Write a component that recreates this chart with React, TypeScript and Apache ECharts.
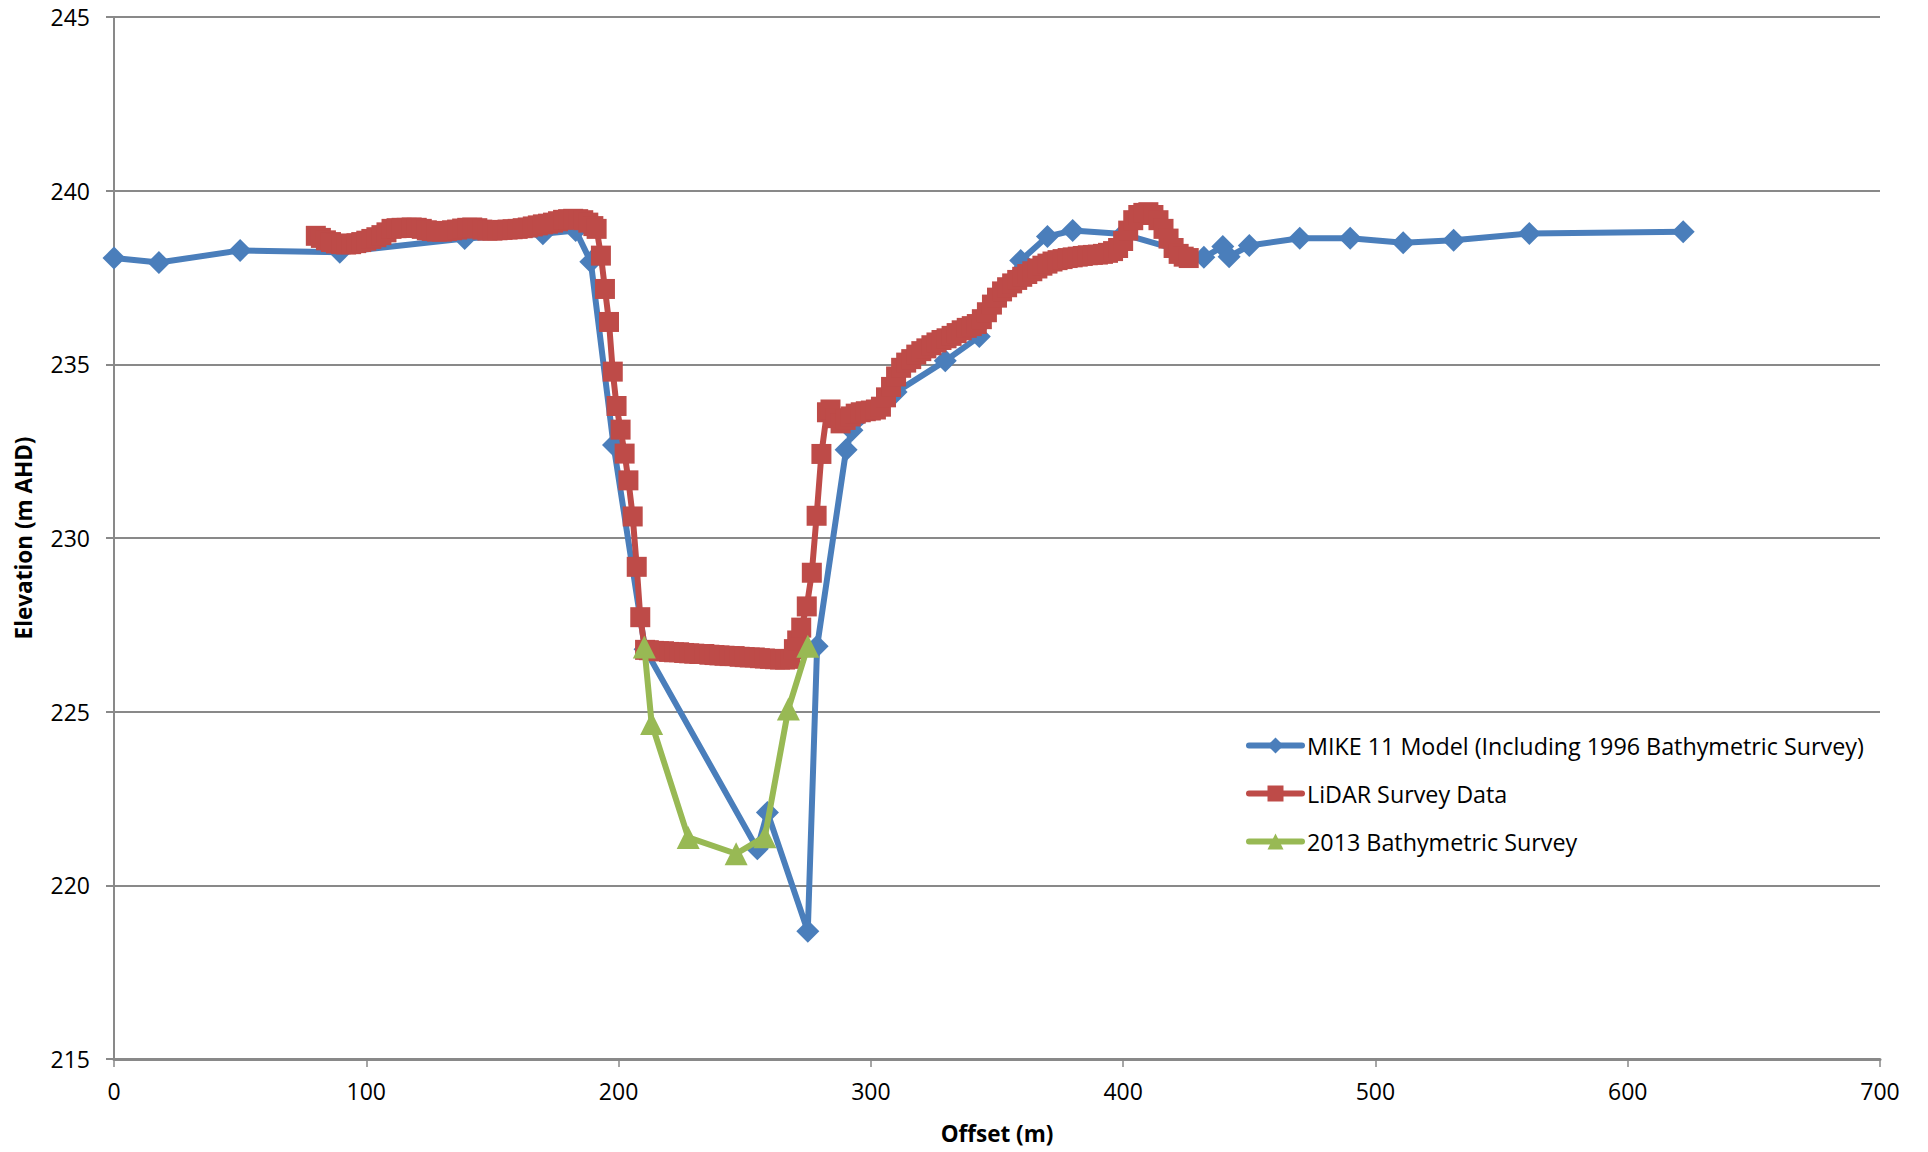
import React, { useEffect, useRef } from "react";
import * as echarts from "echarts";

const FONT = "'Open Sans', 'Noto Sans', sans-serif";

const seriesNames = [
  "MIKE 11 Model (Including 1996 Bathymetric Survey)",
  "LiDAR Survey Data",
  "2013 Bathymetric Survey",
];

const mikeOffset = [
  0, 17.8, 50, 89.5, 139, 170, 183, 189, 198, 210.5, 255, 259, 275, 278.7, 290.2,
  292.5, 310, 329.5, 343, 359.4, 370, 380, 400, 432, 439.5, 442, 450, 470, 490,
  511, 531, 561, 622,
];
const mikeElevation = [
  238.06, 237.93, 238.28, 238.23, 238.62, 238.76, 238.85, 237.95, 232.68, 226.8,
  221.05, 222.1, 218.68, 226.88, 232.54, 233.1, 234.2, 235.1, 235.8, 237.99,
  238.68, 238.85, 238.75, 238.08, 238.39, 238.1, 238.42, 238.63, 238.63, 238.5,
  238.57, 238.77, 238.82,
];

const lidarOffset = [
  80, 82, 84, 86, 88, 90, 92, 94, 96, 98, 100, 102, 104, 106, 108, 110, 112, 114,
  116, 118, 120, 122, 124, 126, 128, 130, 132, 134, 136, 138, 140, 142, 144, 146,
  148, 150, 152, 154, 156, 158, 160, 162, 164, 166, 168, 170, 172, 174, 176, 178,
  180, 182, 184, 186, 188, 190, 191.3,
  193.0, 194.6, 196.2, 197.7, 199.2, 200.8, 202.4, 203.9, 205.6, 207.2, 208.6,
  210.5, 212, 214, 216, 218, 220, 222, 224, 226, 228, 230, 232, 234, 236, 238,
  240, 242, 244, 246, 248, 250, 252, 254, 256, 258, 260, 262, 264, 266, 268,
  269.5, 270.8, 272.4, 274.6, 276.6, 278.5, 280.4, 282.6,
  284, 286, 288, 290, 292, 294, 296, 298, 300, 302, 304, 306, 308, 310, 312, 314,
  316, 318, 320, 322, 324, 326, 328, 330, 332, 334, 336, 338, 340, 342, 344, 346,
  348, 350, 352, 354, 356, 358, 360, 362, 364, 366, 368, 370, 372, 374, 376, 378,
  380, 382, 384, 386, 388, 390, 392, 394, 396, 398, 400, 402, 404, 406, 408, 410,
  412, 414, 416, 418, 420, 422, 424, 426,
];
const lidarElevation = [
  238.7, 238.64, 238.57, 238.52, 238.48, 238.46, 238.45, 238.46, 238.49, 238.52,
  238.56, 238.61, 238.66, 238.72, 238.8, 238.9, 238.92, 238.93, 238.93, 238.94,
  238.93, 238.9, 238.86, 238.84, 238.82, 238.82, 238.84, 238.86, 238.88, 238.91,
  238.93, 238.94, 238.92, 238.88, 238.85, 238.85, 238.86, 238.87, 238.88, 238.89,
  238.9, 238.92, 238.94, 238.97, 239.0, 239.03, 239.05, 239.08, 239.12, 239.16,
  239.18, 239.19, 239.18, 239.15, 239.08, 238.98, 238.9,
  238.13, 237.17, 236.22, 234.79, 233.8, 233.12, 232.43, 231.66, 230.62, 229.17,
  227.72,
  226.78, 226.77, 226.75, 226.74, 226.74, 226.72, 226.71, 226.71, 226.69, 226.68,
  226.67, 226.66, 226.66, 226.64, 226.63, 226.62, 226.61, 226.6, 226.6, 226.58,
  226.57, 226.56, 226.56, 226.54, 226.53, 226.52, 226.51, 226.5, 226.5, 226.52,
  226.8, 227.05, 227.42, 228.03, 229.0, 230.64, 232.42, 233.62,
  233.7, 233.45, 233.3, 233.4, 233.5, 233.58, 233.62, 233.65, 233.67, 233.7,
  233.78, 234.05, 234.35, 234.65, 234.9, 235.05, 235.15, 235.28, 235.38, 235.46,
  235.55, 235.63, 235.7, 235.75, 235.82, 235.9, 235.98, 236.05, 236.1, 236.16,
  236.3, 236.5, 236.72, 236.92, 237.1, 237.22, 237.33, 237.43, 237.52, 237.6,
  237.68, 237.76, 237.84, 237.9, 237.96, 238.0, 238.03, 238.06, 238.08, 238.1,
  238.12, 238.14, 238.15, 238.16, 238.18, 238.21, 238.26, 238.35, 238.55, 238.85,
  239.15, 239.3, 239.36, 239.38, 239.3, 239.15, 238.9, 238.62, 238.35, 238.18,
  238.1, 238.06,
];

const bathyOffset = [210.2, 213.1, 227.6, 246.6, 258, 267.3, 275];
const bathyElevation = [226.86, 224.66, 221.38, 220.91, 221.4, 225.08, 226.88];

const zip = (xs: number[], ys: number[]) => xs.map((x, i) => [x, ys[i]]);

const GRID_GREY = "#898989";
const LINE_W = 6;

export default function App() {
  const ref = useRef<HTMLDivElement>(null);
  useEffect(() => {
    const chart = echarts.init(ref.current!, undefined, { renderer: "svg" });
    chart.setOption({
      animation: false,
      backgroundColor: "#ffffff",
      textStyle: { fontFamily: FONT },
      grid: { left: 114, right: 48, top: 17, bottom: 93, containLabel: false },
      legend: {
        orient: "vertical",
        left: 1246,
        top: 731,
        padding: 0,
        itemWidth: 53,
        itemHeight: 20,
        itemGap: 19,
        data: seriesNames,
        lineStyle: { width: LINE_W },
        textStyle: { fontFamily: FONT, fontSize: 23.3, color: "#000", lineHeight: 29, padding: [0, 0, 0, 0] },
      },
      xAxis: {
        type: "value",
        min: 0,
        max: 700,
        interval: 100,
        name: "Offset (m)",
        nameLocation: "middle",
        nameGap: 63,
        nameTextStyle: { fontFamily: FONT, fontSize: 22.5, fontWeight: "bold", color: "#000" },
        axisLine: { show: true, onZero: false, lineStyle: { color: GRID_GREY, width: 3 } },
        axisTick: { show: true, length: 8, lineStyle: { color: GRID_GREY, width: 1.5 } },
        axisLabel: { fontFamily: FONT, fontSize: 23, color: "#000", margin: 20 },
        splitLine: { show: false },
      },
      yAxis: {
        type: "value",
        min: 215,
        max: 245,
        interval: 5,
        name: "Elevation (m AHD)",
        nameLocation: "middle",
        nameGap: 79,
        nameRotate: 90,
        nameTextStyle: { fontFamily: FONT, fontSize: 22.5, fontWeight: "bold", color: "#000" },
        axisLine: { show: true, lineStyle: { color: GRID_GREY, width: 2 } },
        axisTick: { show: true, length: 8, lineStyle: { color: GRID_GREY, width: 2 } },
        axisLabel: { fontFamily: FONT, fontSize: 23, color: "#000", margin: 24 },
        splitLine: { show: true, lineStyle: { color: GRID_GREY, width: 2 } },
      },
      series: [
        {
          name: seriesNames[0],
          type: "line",
          data: zip(mikeOffset, mikeElevation),
          symbol: "diamond",
          symbolSize: 23,
          lineStyle: { color: "#4A7EBB", width: LINE_W, join: "round", cap: "round" },
          itemStyle: { color: "#4A7EBB" },
          z: 2,
        },
        {
          name: seriesNames[1],
          type: "line",
          data: zip(lidarOffset, lidarElevation),
          symbol: "rect",
          symbolSize: 20,
          lineStyle: { color: "#BE4B48", width: LINE_W, join: "round", cap: "round" },
          itemStyle: { color: "#BE4B48" },
          z: 3,
        },
        {
          name: seriesNames[2],
          type: "line",
          data: zip(bathyOffset, bathyElevation),
          symbol: "triangle",
          symbolSize: 23,
          lineStyle: { color: "#98B954", width: LINE_W, join: "round", cap: "round" },
          itemStyle: { color: "#98B954" },
          z: 4,
        },
      ],
    });
    return () => chart.dispose();
  }, []);
  return (
    <div
      ref={ref}
      style={{ position: "fixed", left: 0, top: 0, width: 1928, height: 1152, background: "#fff" }}
    />
  );
}
